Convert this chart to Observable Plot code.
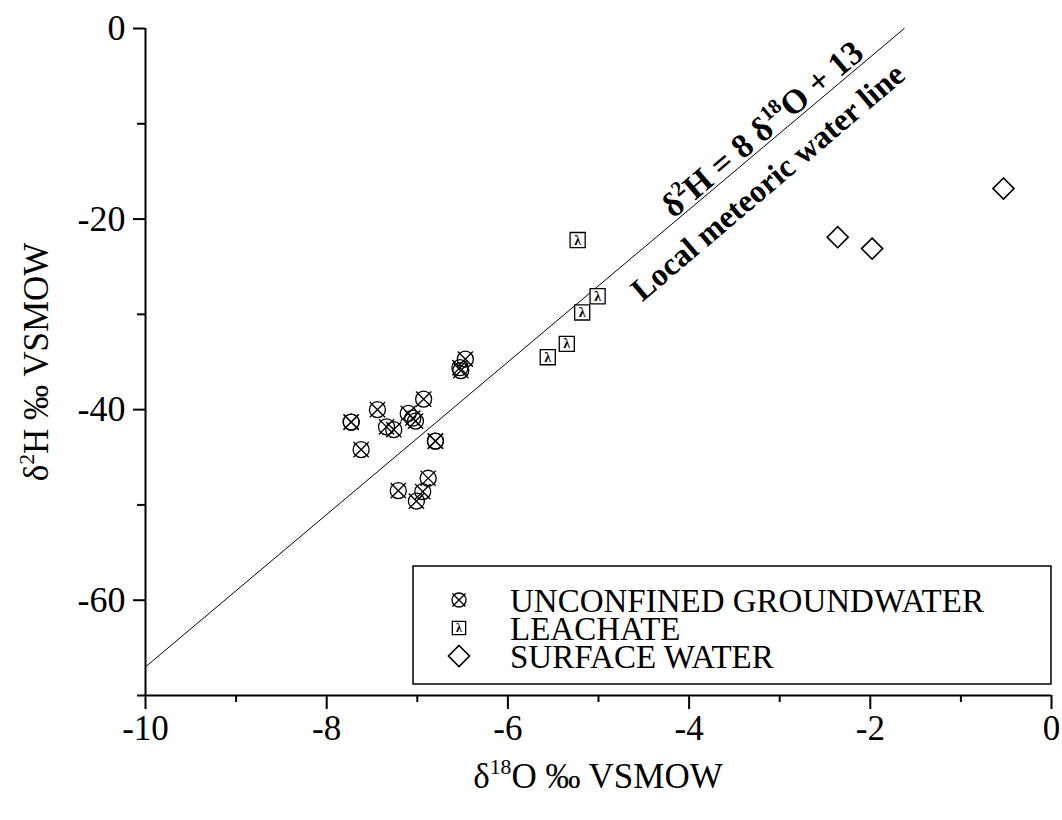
<!DOCTYPE html>
<html><head><meta charset="utf-8">
<script src="https://cdn.jsdelivr.net/npm/d3@7"></script>
<script src="https://cdn.jsdelivr.net/npm/@observablehq/plot@0.6"></script>
<style>
body{margin:0;background:#fff;}
#wrap{position:relative;width:1062px;height:820px;}
</style></head><body><div id="wrap"></div>
<script>
// Unconfined groundwater (δ18O, δ2H)
const gwO = [-6.47, -6.53, -6.52, -6.93, -7.44, -7.73, -7.73, -7.34, -7.26, -7.10, -7.05, -7.02, -6.80, -6.80, -7.62, -6.88, -6.94, -7.21, -7.01];
const gwH = [-34.7, -35.6, -35.9, -38.9, -40.0, -41.3, -41.3, -41.8, -42.1, -40.4, -40.9, -41.2, -43.3, -43.3, -44.2, -47.2, -48.6, -48.5, -49.6];
// Leachate
const leO = [-5.23, -5.01, -5.18, -5.35, -5.56];
const leH = [-22.2, -28.1, -29.8, -33.1, -34.5];
// Surface water
const swO = [-0.53, -2.36, -1.98];
const swH = [-16.8, -21.9, -23.1];
// Local meteoric water line: δ2H = 8 δ18O + 13
const lmwlSlope = 8, lmwlIntercept = 13;
const lmwlO = [-10, -1.625];
// Ticks
const xMajor = [-10, -8, -6, -4, -2, 0];
const xMinor = [-9, -7, -5, -3, -1];
const yMajor = [0, -20, -40, -60];
const yMinor = [-10, -30, -50, -70];
const legendLabels = ["UNCONFINED GROUNDWATER", "LEACHATE", "SURFACE WATER"];
const eqText = "δ2H = 8 δ18O + 13";
const lineText = "Local meteoric water line";

const gw = gwO.map((o, i) => ({o, h: gwH[i]}));
const le = leO.map((o, i) => ({o, h: leH[i]}));
const sw = swO.map((o, i) => ({o, h: swH[i]}));
const lmwl = lmwlO.map(o => ({o, h: lmwlSlope * o + lmwlIntercept}));
const annO = [-3.09, -3.34];
const ann = [
  {o: annO[0], h: lmwlSlope * annO[0] + lmwlIntercept, t: eqText, fs: 34},
  {o: annO[1], h: lmwlSlope * annO[1] + lmwlIntercept, t: lineText, fs: 32}
];

const FONT = "'Liberation Serif','Times New Roman',serif";
const fmt = d => String(d);

const plot = Plot.plot({
  width: 1062, height: 820,
  marginLeft: 145, marginRight: 11, marginTop: 28, marginBottom: 125,
  style: {fontFamily: FONT, background: "white", color: "black", overflow: "visible"},
  x: {domain: [-10, 0]},
  y: {domain: [-70, 0]},
  marks: [
    Plot.axisX({ticks: xMajor, tickSize: 14, tickPadding: 6, tickFormat: fmt, label: null, strokeWidth: 2, fontSize: 35}),
    Plot.axisX({ticks: xMinor, tickSize: 7, tickFormat: () => "", label: null, strokeWidth: 2}),
    Plot.axisY({ticks: yMajor, tickSize: 12, tickPadding: 8, tickFormat: fmt, label: null, strokeWidth: 2, fontSize: 36}),
    Plot.axisY({ticks: yMinor, tickSize: 8, tickFormat: () => "", label: null, strokeWidth: 2}),
    Plot.ruleY([-70], {stroke: "black", strokeWidth: 2}),
    Plot.ruleX([-10], {stroke: "black", strokeWidth: 2}),
    Plot.line(lmwl, {x: "o", y: "h", stroke: "black", strokeWidth: 1}),
    Plot.dot(gw, {x: "o", y: "h", symbol: "circle", r: 8, stroke: "black", strokeWidth: 1.3, fill: "none"}),
    Plot.dot(gw, {x: "o", y: "h", symbol: "times", r: 7, stroke: "black", strokeWidth: 1.3}),
    Plot.dot(le, {x: "o", y: "h", symbol: "square", r: 8.5, stroke: "black", strokeWidth: 1.3, fill: "white"}),
    Plot.text(le, {x: "o", y: "h", text: () => "λ", fontWeight: "bold", fontSize: 14, fill: "black"}),
    Plot.dot(sw, {x: "o", y: "h", symbol: "diamond2", r: 9.5, stroke: "black", strokeWidth: 1.6, fill: "none"}),
    Plot.text(ann, {x: "o", y: "h", text: "t", rotate: -40.3, fontWeight: "bold", fontSize: d => d.fs,
      fill: "black", textAnchor: "middle", lineAnchor: "middle"})
  ]
});
document.getElementById("wrap").appendChild(plot);

const svg = d3.select(plot);
const annOff = {[eqText]: [-9, -11], [lineText]: [19, 23]};

function supify(el, parts, fs) {
  const sel = d3.select(el);
  sel.text(null);
  let prevSup = false;
  parts.forEach(([s, sup]) => {
    const t = sel.append("tspan").text(s);
    if (sup) { t.attr("font-size", (fs * 0.62) + "px").attr("dy", (-fs * 0.4) + "px"); }
    else if (prevSup) { t.attr("dy", (fs * 0.4) + "px"); }
    prevSup = sup;
  });
}

svg.selectAll("text").each(function() {
  const txt = this.textContent;
  if (txt === eqText || txt === lineText) {
    const [dx, dy] = annOff[txt];
    const tr = this.getAttribute("transform") || "";
    this.setAttribute("transform", `translate(${dx},${dy}) ` + tr);
    if (txt === eqText) supify(this, [["δ", 0], ["2", 1], ["H = 8 δ", 0], ["18", 1], ["O + 13", 0]], 34);
  }
});

// axis titles
const titleFS = 35;
const xt = svg.append("text").attr("x", 598).attr("y", 788).attr("text-anchor", "middle")
  .attr("font-family", FONT).attr("font-size", titleFS + "px").attr("fill", "black");
supify(xt.node(), [["δ", 0], ["18", 1], ["O ‰ VSMOW", 0]], titleFS);
const yt = svg.append("text").attr("transform", "translate(48,362) rotate(-90)").attr("text-anchor", "middle")
  .attr("font-family", FONT).attr("font-size", titleFS + "px").attr("fill", "black");
supify(yt.node(), [["δ", 0], ["2", 1], ["H ‰ VSMOW", 0]], titleFS);

// legend
const lg = svg.append("g");
lg.append("rect").attr("x", 413).attr("y", 566).attr("width", 638).attr("height", 118)
  .attr("fill", "white").attr("stroke", "black").attr("stroke-width", 1.5);
const rowsY = [600, 628, 656];
const sx = 459, tx = 510;
const sym = (type, r) => d3.symbol(type, r * r * Math.PI)();
lg.append("path").attr("d", sym(d3.symbolCircle, 7)).attr("transform", `translate(${sx},${rowsY[0]})`)
  .attr("fill", "none").attr("stroke", "black").attr("stroke-width", 1.3);
lg.append("path").attr("d", sym(d3.symbolTimes, 6)).attr("transform", `translate(${sx},${rowsY[0]})`)
  .attr("fill", "none").attr("stroke", "black").attr("stroke-width", 1.3);
lg.append("path").attr("d", sym(d3.symbolSquare, 7.5)).attr("transform", `translate(${sx},${rowsY[1]})`)
  .attr("fill", "white").attr("stroke", "black").attr("stroke-width", 1.3);
lg.append("text").attr("x", sx).attr("y", rowsY[1]).attr("dy", "0.35em").attr("text-anchor", "middle")
  .attr("font-family", FONT).attr("font-weight", "bold").attr("font-size", "12px").text("λ");
lg.append("path").attr("d", sym(d3.symbolDiamond2, 9.5)).attr("transform", `translate(${sx},${rowsY[2]})`)
  .attr("fill", "none").attr("stroke", "black").attr("stroke-width", 1.6);
const lt = lg.append("text").attr("text-anchor", "start")
  .attr("font-family", FONT).attr("font-size", "33px").attr("fill", "black");
legendLabels.forEach((s, i) => {
  lt.append("tspan").attr("x", tx).attr("y", rowsY[i] + 12).text(s);
});
</script>
</body></html>
